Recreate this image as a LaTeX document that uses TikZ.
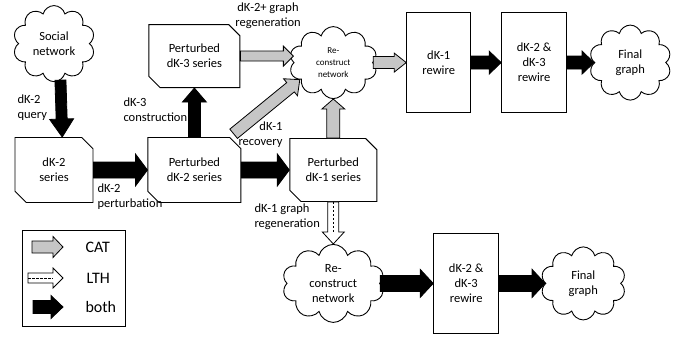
\documentclass[tikz,border=0pt]{standalone}
\usepackage{fontspec}
\setmainfont{Carlito}
\usetikzlibrary{shapes.misc,shapes.symbols,positioning,calc}

% fat block arrow: [style]{from}{to}{half shaft}{half head}{head length}
\newcommand{\blockarrow}[6][]{%
  \coordinate (ahb) at ($(#3)!#6!(#2)$);
  \filldraw[line width=0.8pt, #1] ($(#2)!#4!90:(#3)$) -- ($(ahb)!#4!-90:(#2)$)
    -- ($(ahb)!#5!-90:(#2)$) -- (#3) -- ($(ahb)!#5!90:(#2)$)
    -- ($(ahb)!#4!90:(#2)$) -- ($(#2)!#4!-90:(#3)$) -- cycle;}

\begin{document}
\begin{tikzpicture}[x=1pt, y=-1pt,
    series/.style={chamfered rectangle, chamfered rectangle corners={north east,south west},
      chamfered rectangle xsep=8pt, draw, line width=0.9pt, align=center, inner sep=0pt,
      minimum width=#1, minimum height=64pt, font=\fontsize{12.5}{15}\selectfont},
    rwbox/.style={rectangle, draw, line width=0.9pt, align=center, minimum width=65pt,
      minimum height=100pt, font=\fontsize{12.5}{15}\selectfont},
    puff/.style={cloud, cloud puffs=10, cloud ignores aspect, draw, line width=0.9pt,
      align=center, inner sep=0pt, font=\fontsize{12.5}{15}\selectfont},
    small/.style={font=\fontsize{9}{12}\selectfont},
    lbl/.style={align=left, font=\fontsize{12.5}{15}\selectfont},
    catarrow/.style={fill=gray!45, draw=black},
    ltharrow/.style={fill=white, draw=black},
    botharrow/.style={fill=black, draw=black}
]
\useasboundingbox (0,0) rectangle (694,337);

% main chain
\node[series=78pt, minimum height=65pt] (dk2) at (54,170) {dK-2\\series};
\node[puff, minimum width=82pt, minimum height=76pt, above=55pt of dk2] (sn) {Social\\network};
\node[series=93pt, minimum height=65pt, right=54pt of dk2] (pdk2) {Perturbed\\dK-2 series};
\node[series=91pt, minimum height=63pt, above=49pt of pdk2] (pdk3) {Perturbed\\dK-3 series};
\node[series=87pt, minimum height=63pt, right=48pt of pdk2] (pdk1) {Perturbed\\dK-1 series};

% CAT path
\node[puff, small, minimum width=88pt, minimum height=72pt, above=39pt of pdk1] (rc) {Re-\\construct\\network};
\node[rwbox, minimum width=64pt, right=33pt of rc] (rw1) {dK-1\\rewire};
\node[rwbox, right=30pt of rw1] (rw23) {dK-2 \&\\dK-3\\rewire};
\node[puff, minimum width=82pt, minimum height=75pt, right=27pt of rw23] (fg) {Final\\graph};

% LTH path
\node[puff, minimum width=102pt, minimum height=78pt, below=42pt of pdk1] (rc2) {Re-\\construct\\network};
\node[rwbox, right=53pt of rc2] (rw23b) {dK-2 \&\\dK-3\\rewire};
\node[puff, minimum width=85pt, minimum height=73pt, right=46pt of rw23b] (fgb) {Final\\graph};

% labels
\node[lbl, anchor=west] (q) at (14,108) {dK-2\\query};
\node[lbl, anchor=west] (pert) at (94,197) {dK-2\\perturbation};
\node[lbl, anchor=west] (cons) at (120,110) {dK-3\\construction};
\node[lbl, align=center] (regen) at (268,16) {dK-2+ graph\\regeneration};
\node[lbl, align=right, anchor=east] (rec) at (286,135) {dK-1\\recovery};
\node[lbl, anchor=west] (regen1) at (251,217) {dK-1 graph\\regeneration};

% arrows
\blockarrow[botharrow]{sn.-80}{dk2.76}{5.5pt}{12pt}{18pt}
\blockarrow[botharrow]{dk2.east}{pdk2.west}{8pt}{16pt}{12pt}
\blockarrow[botharrow]{pdk2.north}{pdk3.south}{6pt}{12pt}{14pt}
\blockarrow[botharrow]{pdk2.east}{pdk1.west}{8pt}{16pt}{12pt}
\coordinate (t3) at (rc.west |- pdk3.east);
\blockarrow[catarrow]{pdk3.east}{t3}{5pt}{10pt}{10pt}
\coordinate (d1) at ($(pdk2.north east)+(-2,-9)$);
\blockarrow[catarrow]{d1}{rc.207}{6pt}{11pt}{12pt}
\blockarrow[catarrow]{pdk1.north}{rc.south}{6.5pt}{11.5pt}{10pt}
\blockarrow[catarrow]{rc.east}{rw1.west}{6pt}{9.5pt}{12pt}
\blockarrow[botharrow]{rw1.east}{rw23.west}{6.5pt}{11.5pt}{12pt}
\blockarrow[botharrow]{rw23.east}{fg.west}{6.5pt}{11.5pt}{12pt}
\blockarrow[ltharrow]{pdk1.south}{rc2.north}{5.5pt}{11pt}{12pt}
\draw[dash pattern=on 2pt off 2pt, line width=0.6pt] (pdk1.south) -- (ahb);
\blockarrow[botharrow]{rc2.east}{rw23b.west}{8pt}{14pt}{13pt}
\blockarrow[botharrow]{rw23b.east}{fgb.west}{8pt}{14pt}{13pt}

% legend
\node[draw, line width=0.9pt, minimum width=103pt, minimum height=96pt] (lg) at (73.5,278) {};
\coordinate (c1) at (32,247);  \coordinate (c2) at (63,247);
\coordinate (l1) at (28,278);  \coordinate (l2) at (63,278);
\coordinate (b1) at (33,307);  \coordinate (b2) at (63,307);
\blockarrow[catarrow]{c1}{c2}{6pt}{10.5pt}{10pt}
\blockarrow[ltharrow]{l1}{l2}{5pt}{10pt}{10pt}
\draw[dash pattern=on 2.5pt off 1.5pt, line width=0.6pt] (l1) -- (ahb);
\blockarrow[botharrow]{b1}{b2}{6.5pt}{11.5pt}{12pt}
\node[anchor=west, font=\fontsize{16}{18}\selectfont] (tcat) at (82,247) {CAT};
\node[anchor=west, font=\fontsize{16}{18}\selectfont] (tlth) at (83,278) {LTH};
\node[anchor=west, font=\fontsize{16}{18}\selectfont] (tboth) at (82,307) {both};
\end{tikzpicture}
\end{document}
